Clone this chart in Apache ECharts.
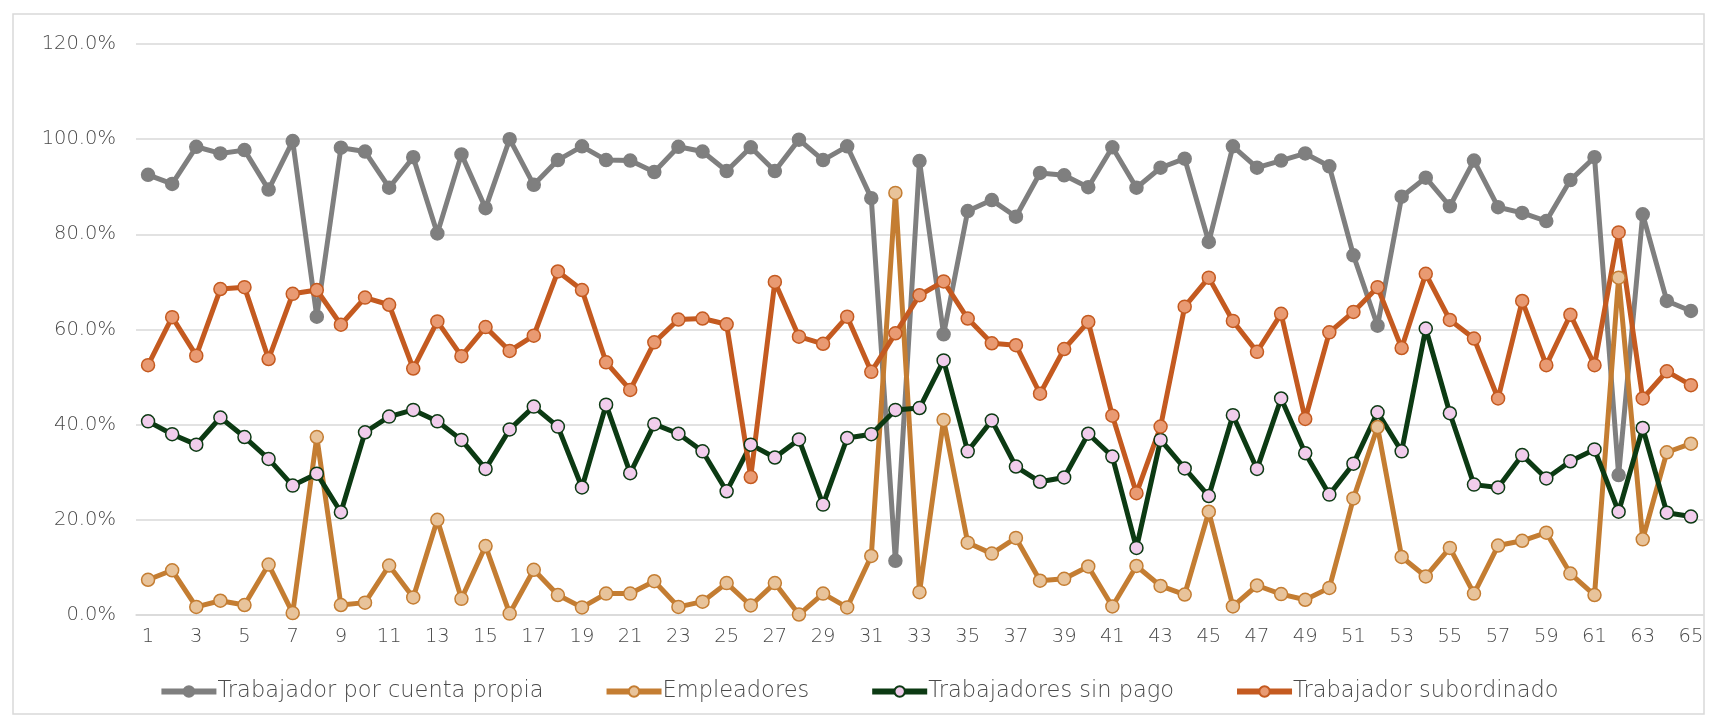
<!DOCTYPE html>
<html>
<head>
<meta charset="UTF-8">
<title>Trabajadores</title>
<script src="https://cdn.jsdelivr.net/npm/echarts@6/dist/echarts.min.js"></script>
<style>
  html, body { margin: 0; padding: 0; background: #fff; }
  #container { width: 1717px; height: 720px; }
</style>
</head>
<body>
<div id="container"></div>
<script type="text/javascript">
// categorias 1..65
var categorias = [];
for (var i = 1; i <= 65; i++) categorias.push(String(i));

var cuentaPropia = [92.5, 90.6, 98.4, 97.0, 97.7, 89.4, 99.6, 62.7, 98.2, 97.4,
  89.8, 96.2, 80.2, 96.8, 85.5, 100.0, 90.4, 95.6, 98.5, 95.6,
  95.5, 93.1, 98.4, 97.4, 93.3, 98.3, 93.3, 99.9, 95.6, 98.5,
  87.6, 11.4, 95.4, 59.0, 84.9, 87.2, 83.7, 92.9, 92.4, 89.9,
  98.3, 89.8, 94.0, 95.9, 78.4, 98.5, 94.0, 95.5, 97.0, 94.3,
  75.6, 60.8, 87.9, 91.9, 85.9, 95.5, 85.7, 84.5, 82.8, 91.4,
  96.2, 29.4, 84.2, 66.0, 63.9];

var empleadores = [7.4, 9.4, 1.7, 3.0, 2.1, 10.6, 0.4, 37.4, 2.1, 2.6,
  10.4, 3.7, 20.0, 3.4, 14.5, 0.3, 9.5, 4.2, 1.6, 4.5,
  4.5, 7.1, 1.7, 2.8, 6.7, 2.0, 6.7, 0.1, 4.5, 1.6,
  12.4, 88.7, 4.8, 41.0, 15.2, 12.9, 16.2, 7.2, 7.6, 10.2,
  1.8, 10.3, 6.1, 4.3, 21.7, 1.8, 6.2, 4.4, 3.2, 5.7,
  24.5, 39.5, 12.2, 8.1, 14.1, 4.5, 14.6, 15.6, 17.3, 8.7,
  4.2, 70.9, 15.9, 34.2, 36.0];

var sinPago = [40.7, 38.0, 35.8, 41.5, 37.4, 32.8, 27.2, 29.7, 21.6, 38.4,
  41.7, 43.1, 40.7, 36.8, 30.7, 39.0, 43.8, 39.6, 26.8, 44.2,
  29.8, 40.1, 38.1, 34.4, 26.0, 35.8, 33.1, 36.9, 23.2, 37.2,
  38.0, 43.1, 43.5, 53.5, 34.4, 40.9, 31.2, 28.0, 28.9, 38.1,
  33.3, 14.1, 36.8, 30.8, 25.0, 42.0, 30.7, 45.5, 34.0, 25.3,
  31.8, 42.6, 34.4, 60.2, 42.4, 27.4, 26.8, 33.6, 28.7, 32.3,
  34.8, 21.7, 39.3, 21.5, 20.7];

var subordinado = [52.5, 62.6, 54.5, 68.5, 68.9, 53.8, 67.5, 68.3, 61.0, 66.7,
  65.2, 51.8, 61.7, 54.4, 60.5, 55.5, 58.7, 72.2, 68.3, 53.1,
  47.3, 57.3, 62.1, 62.3, 61.1, 29.0, 70.0, 58.5, 57.0, 62.7,
  51.1, 59.2, 67.2, 70.1, 62.3, 57.1, 56.7, 46.5, 55.9, 61.6,
  41.9, 25.6, 39.6, 64.8, 70.9, 61.8, 55.3, 63.3, 41.2, 59.4,
  63.7, 68.9, 56.1, 71.7, 62.0, 58.1, 45.5, 66.0, 52.5, 63.1,
  52.5, 80.4, 45.5, 51.2, 48.3];

var nombres = ['Trabajador por cuenta propia', 'Empleadores', 'Trabajadores sin pago', 'Trabajador subordinado'];

var fuente = 'DejaVu Sans';
var gris = '#4a4a4a';

function serie(nombre, datos, linea, relleno) {
    return {
        name: nombre,
        type: 'line',
        data: datos,
        symbol: 'circle',
        symbolSize: 13,
        lineStyle: { color: linea, width: 5 },
        itemStyle: { color: relleno, borderColor: linea, borderWidth: 1.5 },
        emphasis: { disabled: true },
        animation: false
    };
}

var dom = document.getElementById("container");
var myChart = echarts.init(dom);
var option = {
    backgroundColor: '#fff',
    animation: false,
    graphic: [{
        type: 'rect',
        shape: { x: 13, y: 14, width: 1691, height: 700 },
        style: { fill: 'none', stroke: '#d9d9d9', lineWidth: 1.5 },
        silent: true
    }],
    grid: { left: 136, right: 14, top: 44, bottom: 105, containLabel: false },
    legend: {
        data: nombres,
        bottom: 12,
        left: 'center',
        itemWidth: 55,
        itemHeight: 13,
        itemGap: 60,
        lineStyle: { width: 6 },
        textStyle: { fontFamily: fuente, fontWeight: 200, fontSize: 22.5, color: gris, padding: [0, 0, 0, -4] }
    },
    xAxis: {
        type: 'category',
        data: categorias,
        boundaryGap: true,
        axisLine: { show: true, lineStyle: { color: '#d9d9d9', width: 1.5 } },
        axisTick: { show: false },
        axisLabel: { interval: 1, color: gris, fontFamily: fuente, fontWeight: 200, fontSize: 19.5, margin: 12 }
    },
    yAxis: {
        type: 'value',
        min: 0,
        max: 120,
        interval: 20,
        axisLine: { show: false },
        axisTick: { show: false },
        splitLine: { lineStyle: { color: '#d9d9d9', width: 1.5 } },
        axisLabel: {
            color: gris, fontFamily: fuente, fontWeight: 200, fontSize: 19.5, margin: 20,
            formatter: function (v) { return v.toFixed(1) + '%'; }
        }
    },
    series: [
        serie(nombres[0], cuentaPropia, '#7f7f7f', '#7f7f7f'),
        serie(nombres[1], empleadores, '#c47d32', '#e8c39a'),
        serie(nombres[2], sinPago, '#0c3a13', '#f1cdec'),
        serie(nombres[3], subordinado, '#c45a20', '#e99a72')
    ]
};
myChart.setOption(option, true);
</script>
</body>
</html>
